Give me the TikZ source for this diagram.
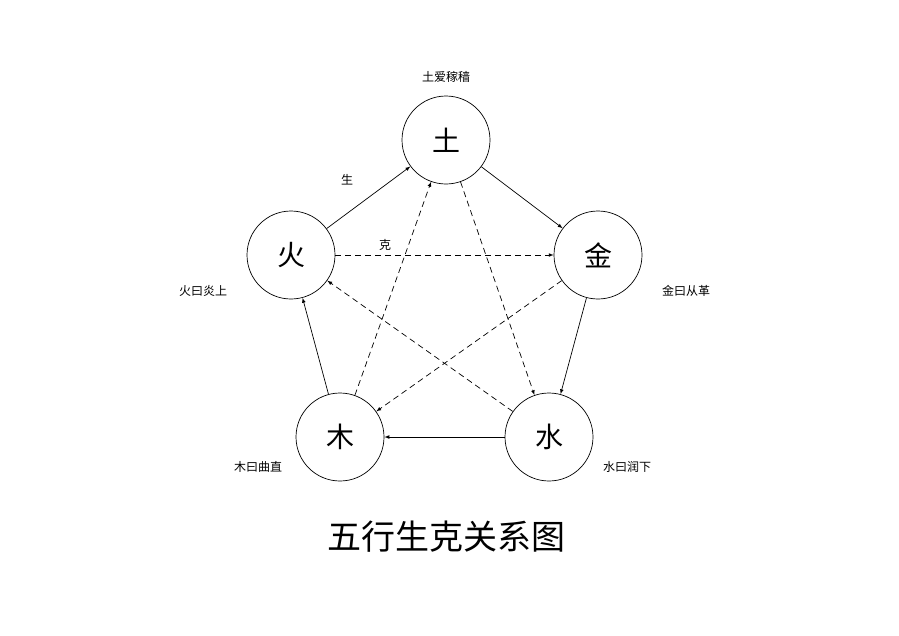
\documentclass[tikz,border=0pt]{standalone}
\usepackage{fontspec}
\setmainfont{Noto Sans CJK SC}
\begin{document}
\begin{tikzpicture}[x=1pt,y=-1pt,
  el/.style={circle,draw,line width=0.7pt,minimum size=88pt,inner sep=0pt,font=\fontsize{28}{30}\selectfont},
  lab/.style={font=\fontsize{12}{14}\selectfont},
  sheng/.style={draw,line width=0.7pt,-latex},
  ke/.style={draw,line width=0.7pt,-latex,dash pattern=on 6pt off 4pt}]
\useasboundingbox (0,0) rectangle (899,635);
\node[el] (tu) at (446,140) {土};
\node[el] (jin) at (598,255) {金};
\node[el] (shui) at (549,437) {水};
\node[el] (mu) at (340,437) {木};
\node[el] (huo) at (291,255) {火};
\node[lab] (l1) at (446,77) {土爱稼穑};
\node[lab] (l2) at (686,291) {金曰从革};
\node[lab] (l3) at (627,467) {水曰润下};
\node[lab] (l4) at (258,467) {木曰曲直};
\node[lab] (l5) at (203,291) {火曰炎上};
\node[lab] (s) at (347,180) {生};
\node[lab] (k) at (385,245) {克};
\node[font=\fontsize{34}{36}\selectfont] (t) at (446,537) {五行生克关系图};
\path[sheng] (tu) -- (jin);
\path[sheng] (jin) -- (shui);
\path[sheng] (shui) -- (mu);
\path[sheng] (mu) -- (huo);
\path[sheng] (huo) -- (tu);
\path[ke] (huo) -- (jin);
\path[ke] (jin) -- (mu);
\path[ke] (mu) -- (tu);
\path[ke] (tu) -- (shui);
\path[ke] (shui) -- (huo);
\end{tikzpicture}
\end{document}
